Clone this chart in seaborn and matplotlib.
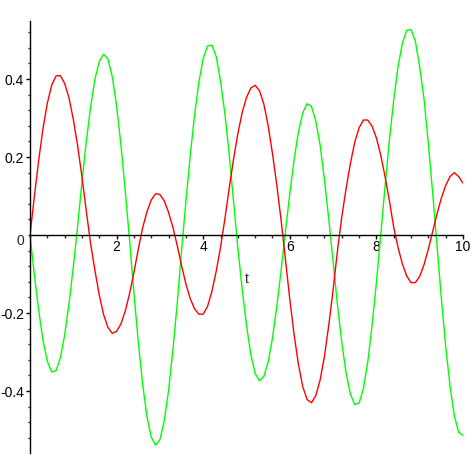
import numpy as np
import pandas as pd
import matplotlib
matplotlib.use("Agg")
import matplotlib.pyplot as plt
from matplotlib.ticker import MultipleLocator, FixedLocator
import seaborn as sns

# time grid, 0 .. 10 in steps of 0.1
t = np.linspace(0, 10, 101)

# values
red = [0.000, 0.098, 0.191, 0.273, 0.338, 0.384, 0.408, 0.409, 0.389, 0.352,
       0.297, 0.229, 0.149, 0.062, -0.022, -0.091, -0.154, -0.204, -0.237, -0.252,
       -0.247, -0.228, -0.195, -0.150, -0.096, -0.037, 0.018, 0.059, 0.090, 0.106,
       0.104, 0.088, 0.058, 0.020, -0.027, -0.078, -0.125, -0.163, -0.189, -0.203,
       -0.203, -0.183, -0.145, -0.093, -0.032, 0.041, 0.120, 0.194, 0.260, 0.314,
       0.353, 0.377, 0.384, 0.370, 0.336, 0.281, 0.209, 0.128, 0.037, -0.063,
       -0.165, -0.256, -0.332, -0.389, -0.422, -0.430, -0.412, -0.372, -0.311, -0.231,
       -0.141, -0.041, 0.046, 0.119, 0.184, 0.238, 0.275, 0.295, 0.295, 0.279,
       0.249, 0.205, 0.150, 0.088, 0.020, -0.032, -0.074, -0.105, -0.122, -0.122,
       -0.106, -0.076, -0.036, 0.009, 0.054, 0.095, 0.127, 0.150, 0.160, 0.150,
       0.133]

green = [0.000, -0.101, -0.193, -0.270, -0.324, -0.351, -0.348, -0.316, -0.257, -0.177,
         -0.082, 0.023, 0.136, 0.240, 0.329, 0.400, 0.445, 0.464, 0.452, 0.406,
         0.331, 0.231, 0.113, -0.014, -0.148, -0.274, -0.381, -0.465, -0.518, -0.539,
         -0.525, -0.477, -0.399, -0.295, -0.176, -0.040, 0.085, 0.203, 0.307, 0.392,
         0.453, 0.485, 0.487, 0.458, 0.395, 0.312, 0.207, 0.087, -0.033, -0.138,
         -0.232, -0.306, -0.355, -0.374, -0.363, -0.326, -0.264, -0.183, -0.090, 0.010,
         0.106, 0.194, 0.265, 0.314, 0.337, 0.330, 0.293, 0.231, 0.142, 0.041,
         -0.068, -0.178, -0.275, -0.354, -0.408, -0.435, -0.431, -0.394, -0.326, -0.232,
         -0.122, 0.000, 0.125, 0.243, 0.347, 0.432, 0.492, 0.525, 0.527, 0.497,
         0.431, 0.349, 0.234, 0.107, -0.027, -0.162, -0.285, -0.387, -0.463, -0.506,
         -0.514]

x_ticks = [2, 4, 6, 8, 10]
y_ticks = [-0.4, -0.2, 0.2, 0.4]
y_labels = ["-0.4", "-0.2", "0.2", "0.4"]

sns.set_style("white")
plt.rcParams["font.family"] = ["Liberation Sans", "DejaVu Sans"]
plt.rcParams["font.size"] = 10

df = pd.DataFrame({"t": t, "red": red, "green": green})

fig = plt.figure(figsize=(4.74, 4.74), dpi=100)
ax = fig.add_axes([30 / 474, 21 / 474, 433 / 474, 432 / 474])

sns.lineplot(data=df, x="t", y="green", color="#00ff00", linewidth=1.0, ax=ax)
sns.lineplot(data=df, x="t", y="red", color="#ff0000", linewidth=1.0, ax=ax)

ax.set_xlim(0, 10)
ax.set_ylim(-0.559, 0.549)
ax.set_xlabel("")
ax.set_ylabel("")

# axes crossing at the origin
for side in ["top", "right"]:
    ax.spines[side].set_visible(False)
ax.spines["left"].set_position(("data", 0))
ax.spines["bottom"].set_position(("data", 0))
for side in ["left", "bottom"]:
    ax.spines[side].set_color("black")
    ax.spines[side].set_linewidth(1.0)

ax.xaxis.set_major_locator(FixedLocator(x_ticks))
ax.xaxis.set_minor_locator(MultipleLocator(0.4))
ax.set_xticklabels([str(v) for v in x_ticks])
ax.yaxis.set_major_locator(FixedLocator(y_ticks))
ax.yaxis.set_minor_locator(MultipleLocator(0.04))
ax.set_yticklabels(y_labels)

ax.tick_params(axis="x", which="major", direction="out", length=2.9, width=1, pad=0.8,
               colors="black", bottom=True)
ax.tick_params(axis="x", which="minor", direction="out", length=2.2, width=1, bottom=True)
ax.tick_params(axis="y", which="major", direction="out", length=3.1, width=1, pad=1.2,
               colors="black", left=True)
ax.tick_params(axis="y", which="minor", direction="out", length=1.7, width=1, left=True)

ax.annotate("0", xy=(0, 0), xytext=(-6.8, -4.3), textcoords="offset points",
            ha="center", va="center", fontsize=10)
ax.text(5.0, -0.113, "t", ha="center", va="center", fontsize=10)

fig.savefig("out.png", dpi=100)
